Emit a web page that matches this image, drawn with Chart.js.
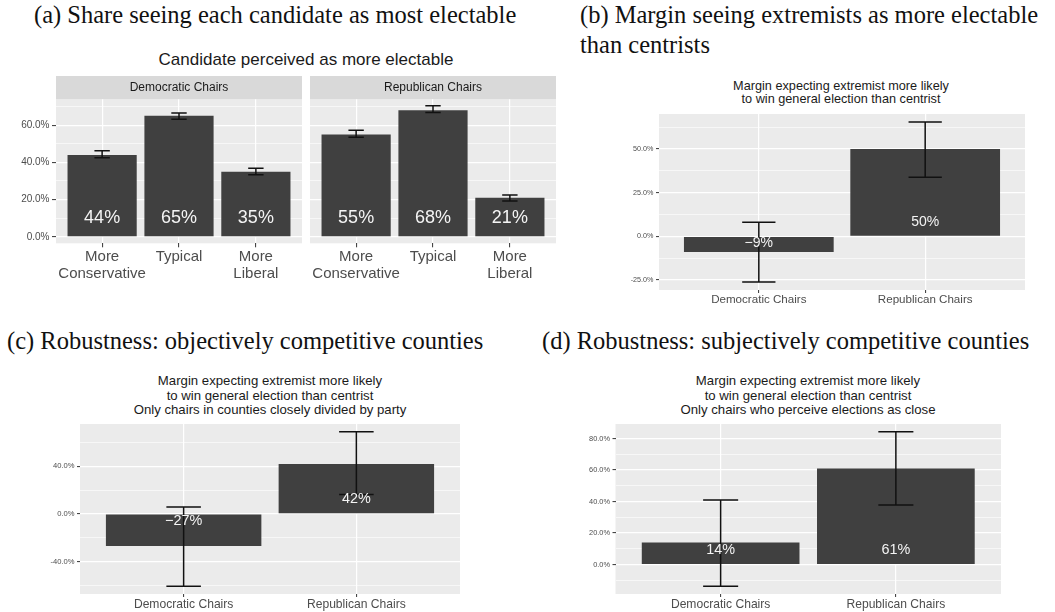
<!DOCTYPE html>
<html>
<head>
<meta charset="utf-8">
<title>Perceived electability of extremist and centrist candidates</title>
<script src="https://cdn.jsdelivr.net/npm/chart.js@4.4.1/dist/chart.umd.min.js"></script>
<style>
  html, body { margin: 0; padding: 0; background: #fff; }
  #page { position: relative; width: 1055px; height: 612px; overflow: hidden; }
  .heading {
    position: absolute; margin: 0; white-space: nowrap; color: #111;
    font: 24.5px/30px "Liberation Serif", "Times New Roman", serif;
  }
  .subtitle {
    position: absolute; transform: translateX(-50%); text-align: center;
    white-space: nowrap; color: #1a1a1a;
    font-family: "Liberation Sans", Arial, sans-serif;
  }
  canvas { position: absolute; }
</style>
</head>
<body>
<div id="page">
  <div class="heading" style="left:34px;top:0">(a) Share seeing each candidate as most electable</div>
  <div class="heading" style="left:580px;top:0">(b) Margin seeing extremists as more electable<br>than centrists</div>
  <div class="heading" style="left:7px;top:326px">(c) Robustness: objectively competitive counties</div>
  <div class="heading" style="left:542px;top:326px">(d) Robustness: subjectively competitive counties</div>

  <div class="subtitle" style="left:306px;top:50px;font-size:17px;line-height:20px">Candidate perceived as more electable</div>
  <div class="subtitle" style="left:841px;top:80px;font-size:12.7px;line-height:12.7px">Margin expecting extremist more likely<br>to win general election than centrist</div>
  <div class="subtitle" style="left:270px;top:374px;font-size:13.2px;line-height:14.7px">Margin expecting extremist more likely<br>to win general election than centrist<br>Only chairs in counties closely divided by party</div>
  <div class="subtitle" style="left:808px;top:374px;font-size:13.2px;line-height:14.7px">Margin expecting extremist more likely<br>to win general election than centrist<br>Only chairs who perceive elections as close</div>

  <canvas id="shareDem" width="302" height="214" style="left:0;top:76px"></canvas>
  <canvas id="shareRep" width="246" height="214" style="left:310px;top:76px"></canvas>
  <canvas id="marginAll" width="427" height="196" style="left:598px;top:114px"></canvas>
  <canvas id="marginObj" width="440" height="190" style="left:20px;top:424px"></canvas>
  <canvas id="marginSubj" width="446" height="190" style="left:555px;top:424px"></canvas>
</div>

<script>
// candidate types and share picking each as most electable (with 95% CI)
const candidateTypes = [["More", "Conservative"], "Typical", ["More", "Liberal"]];
const demShare = [44, 65, 35];
const demShareLo = [42.5, 63.2, 33.3];
const demShareHi = [46.3, 66.6, 36.9];
const repShare = [55, 68, 21];
const repShareLo = [53.5, 66.8, 19.3];
const repShareHi = [57.3, 70.4, 22.5];
const shareTicks = [0, 20, 40, 60];

// margin expecting the extremist to win, by party of chair
const chairParty = ["Democratic Chairs", "Republican Chairs"];
const marginAll = [-9, 50];
const marginAllLo = [-26.2, 33.8];
const marginAllHi = [8.0, 65.5];
const marginAllTicks = [-25, 0, 25, 50];

const marginObj = [-27, 42];
const marginObjLo = [-60.9, 16.3];
const marginObjHi = [5.7, 69.1];
const marginObjTicks = [-40, 0, 40];

const marginSubj = [14, 61];
const marginSubjLo = [-13.8, 37.8];
const marginSubjHi = [41.0, 84.3];
const marginSubjTicks = [0, 20, 40, 60, 80];

const FONT = '"Liberation Sans", Arial, sans-serif';
Chart.defaults.font.family = FONT;
Chart.defaults.color = '#4d4d4d';

// grey panel background + optional facet strip above it
const panelFill = {
  id: 'panelFill',
  beforeDraw(chart, args, opts) {
    const { ctx, chartArea: a } = chart;
    ctx.save();
    ctx.fillStyle = '#ebebeb';
    ctx.fillRect(a.left, a.top, a.right - a.left, a.bottom - a.top);
    if (opts.strip) {
      ctx.fillStyle = '#d9d9d9';
      ctx.fillRect(a.left, a.top - opts.stripH, a.right - a.left, opts.stripH);
      ctx.fillStyle = '#1a1a1a';
      ctx.font = opts.stripSize + 'px ' + FONT;
      ctx.textAlign = 'center';
      ctx.textBaseline = 'middle';
      ctx.fillText(opts.strip, (a.left + a.right) / 2, a.top - opts.stripH / 2 + 0.5);
    }
    ctx.restore();
  }
};

// confidence interval whiskers
const errorBars = {
  id: 'errorBars',
  afterDatasetsDraw(chart, args, opts) {
    if (!opts.lo) return;
    const { ctx, scales: { x, y } } = chart;
    const half = (x.getPixelForValue(1 + opts.cap / 2) - x.getPixelForValue(1 - opts.cap / 2)) / 2;
    ctx.save();
    ctx.strokeStyle = '#111';
    ctx.lineWidth = opts.lineWidth;
    opts.lo.forEach((lo, i) => {
      const px = x.getPixelForValue(i + 1);
      const top = y.getPixelForValue(opts.hi[i]);
      const bot = y.getPixelForValue(lo);
      ctx.beginPath();
      ctx.moveTo(px, top); ctx.lineTo(px, bot);
      ctx.moveTo(px - half, top); ctx.lineTo(px + half, top);
      ctx.moveTo(px - half, bot); ctx.lineTo(px + half, bot);
      ctx.stroke();
    });
    ctx.restore();
  }
};

// percentage written inside each bar, just off the zero line
const barLabels = {
  id: 'barLabels',
  afterDatasetsDraw(chart, args, opts) {
    const { ctx, scales: { x, y } } = chart;
    const zero = y.getPixelForValue(0);
    ctx.save();
    ctx.fillStyle = '#f4f4f4';
    ctx.font = opts.size + 'px ' + FONT;
    ctx.textAlign = 'center';
    ctx.textBaseline = 'middle';
    chart.data.datasets[0].data.forEach(p => {
      const text = (p.y < 0 ? '\u2212' + Math.abs(p.y) : p.y) + '%';
      const py = p.y < 0 ? zero + opts.size * 0.52 : zero - opts.size * 1.04;
      ctx.fillText(text, x.getPixelForValue(p.x), py);
    });
    ctx.restore();
  }
};

Chart.register(panelFill, errorBars, barLabels);

// major breaks plus the minor ones half way between (ggplot style)
function withMinor(major, min, max) {
  const step = major[1] - major[0];
  const out = [];
  for (let k = -2; k <= 2 * (major.length - 1) + 2; k++) {
    const v = major[0] + k * step / 2;
    if (v >= min && v <= max) out.push({ value: v, minor: k % 2 !== 0 });
  }
  return out;
}

function drawBars(id, cats, vals, lo, hi, ticks, look) {
  const n = cats.length;
  const low = Math.min(0, ...lo), high = Math.max(0, ...hi);
  const pad = (high - low) * 0.05;
  const yMin = look.yMin !== undefined ? look.yMin : low - pad;
  const yMax = look.yMax !== undefined ? look.yMax : high + pad;
  const yTicks = withMinor(ticks, yMin, yMax);

  return new Chart(document.getElementById(id), {
    type: 'bar',
    data: {
      datasets: [{
        data: vals.map((v, i) => ({ x: i + 1, y: v })),
        backgroundColor: '#404040',
        categoryPercentage: 1,
        barPercentage: 0.9
      }]
    },
    options: {
      responsive: false,
      animation: false,
      events: [],
      layout: { padding: { top: look.stripH || 0 } },
      plugins: {
        legend: { display: false },
        tooltip: { enabled: false },
        panelFill: { strip: look.strip || '', stripH: look.stripH || 0, stripSize: 12 },
        errorBars: { lo, hi, cap: 0.2, lineWidth: 1.5 },
        barLabels: { size: look.labelSize }
      },
      scales: {
        x: {
          type: 'linear',
          min: 0.4,
          max: n + 0.6,
          offset: false,
          afterBuildTicks: s => { s.ticks = cats.map((c, i) => ({ value: i + 1 })); },
          afterFit: s => { s.height = look.xH; s.paddingLeft = 0; s.paddingRight = 0; },
          grid: { offset: false, color: '#ffffff', lineWidth: 1.2, tickLength: look.tickLen, tickColor: '#333333', tickWidth: 1 },
          border: { display: false },
          ticks: {
            autoSkip: false,
            maxRotation: 0,
            padding: look.catPad,
            color: '#4d4d4d',
            font: { size: look.catSize, lineHeight: look.catLine },
            callback: (v, i) => cats[i]
          }
        },
        y: {
          min: yMin,
          max: yMax,
          afterBuildTicks: s => { s.ticks = yTicks.map(t => ({ value: t.value, minor: t.minor })); },
          afterFit: s => { s.width = look.yW; s.paddingTop = 0; s.paddingBottom = 0; },
          grid: {
            color: '#ffffff',
            lineWidth: c => (c.tick && c.tick.minor ? 0.6 : 1.2),
            drawTicks: look.yLabels,
            tickLength: look.tickLen,
            tickWidth: 1,
            tickColor: c => (c.tick && c.tick.minor ? 'rgba(0,0,0,0)' : '#333333')
          },
          border: { display: false },
          ticks: {
            display: look.yLabels,
            padding: look.tickPad,
            color: '#4d4d4d',
            font: { size: look.tickSize },
            callback: (v, i, ts) => (ts[i].minor ? '' : v.toFixed(1) + '%')
          }
        }
      }
    }
  });
}

// (a) both facets share one y range
const shareLook = {
  yMin: -3.5, yMax: 73.9, stripH: 23.3, xH: 46.7, tickLen: 4, catPad: 1.5,
  catSize: 15, catLine: 1.13, tickSize: 10, tickPad: 2.5, labelSize: 18
};
drawBars('shareDem', candidateTypes, demShare, demShareLo, demShareHi, shareTicks,
  Object.assign({}, shareLook, { strip: 'Democratic Chairs', yW: 56, yLabels: true }));
drawBars('shareRep', candidateTypes, repShare, repShareLo, repShareHi, shareTicks,
  Object.assign({}, shareLook, { strip: 'Republican Chairs', yW: 0, yLabels: false }));

// (b)-(d) margins
drawBars('marginAll', chairParty, marginAll, marginAllLo, marginAllHi, marginAllTicks, {
  yW: 61, xH: 20, tickLen: 3, catPad: 0, catSize: 11.6, catLine: 1.2,
  tickSize: 7.2, tickPad: 2.5, labelSize: 14, yLabels: true
});
drawBars('marginObj', chairParty, marginObj, marginObjLo, marginObjHi, marginObjTicks, {
  yW: 60, xH: 20, tickLen: 3, catPad: 0, catSize: 12.1, catLine: 1.2,
  tickSize: 7.6, tickPad: 2.5, labelSize: 14.4, yLabels: true
});
drawBars('marginSubj', chairParty, marginSubj, marginSubjLo, marginSubjHi, marginSubjTicks, {
  yW: 60.5, xH: 20, tickLen: 3, catPad: 0, catSize: 12.1, catLine: 1.2,
  tickSize: 7.4, tickPad: 2.5, labelSize: 14.4, yLabels: true
});
</script>
</body>
</html>
